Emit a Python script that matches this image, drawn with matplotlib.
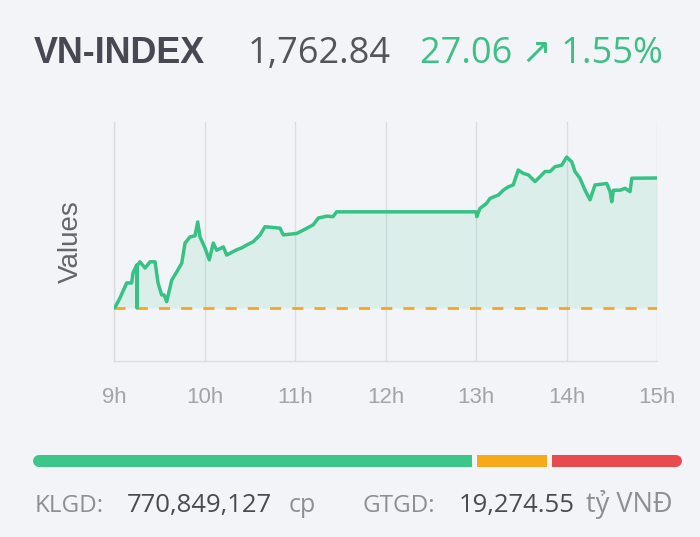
import numpy as np
import matplotlib
matplotlib.use('Agg')
import matplotlib.pyplot as plt

# dane sesji: minuty od 9:00 i wartosc indeksu
minutes = [0, 1, 4, 8.4, 11.7, 12.6, 15, 15.2, 15.4, 17.2, 20.6, 23.9, 27.2, 29.2,
           31.6, 33.2, 34.9, 35.8, 38.3, 41.6, 44.9, 47.1, 50.4, 53.7, 55.5, 57,
           60.3, 63.2, 65.8, 68.1, 72.5, 74.7, 81.3, 84.7, 88, 92.4, 96.8, 100.1,
           110.1, 112.2, 121.1, 125.5, 132.1, 135.4, 141, 145.2, 147.6, 150,
           240, 240.5, 242.6, 247.1, 249.3, 254.8, 258.1, 261.4, 264.7, 268,
           271.4, 274.7, 279.1, 282.4, 285.8, 289.1, 292.4, 296.8, 300.1, 303.5,
           305.6, 308.9, 312.3, 315.6, 318.9, 326.7, 328.9, 330, 331.1, 335.5,
           338.8, 342.1, 343.3, 360]
values = [1735.8, 1736.1, 1737.9, 1741.0, 1741.0, 1743.1, 1744.7, 1735.8, 1744.6,
          1745.4, 1744.1, 1745.4, 1745.4, 1741.0, 1738.5, 1738.5, 1737.1, 1738.3,
          1741.6, 1743.3, 1745.1, 1749.3, 1750.6, 1750.8, 1753.7, 1750.6, 1748.3,
          1745.8, 1749.3, 1747.8, 1748.5, 1746.8, 1747.9, 1748.3, 1748.9, 1749.6,
          1751.0, 1752.7, 1752.4, 1751.0, 1751.3, 1752.0, 1753.1, 1754.5, 1754.9,
          1754.8, 1755.8, 1755.8,
          1755.8, 1754.8, 1756.5, 1757.6, 1758.6, 1759.3, 1760.3, 1761.0, 1761.4,
          1764.5, 1763.8, 1763.5, 1762.1, 1763.1, 1764.2, 1764.2, 1765.2, 1765.5,
          1767.2, 1766.2, 1764.2, 1762.8, 1760.3, 1758.3, 1761.4, 1761.7, 1760.0,
          1757.9, 1760.3, 1760.3, 1760.7, 1760.0, 1762.8, 1762.84]
ref_value = 1735.78
hour_ticks = [9, 10, 11, 12, 13, 14, 15]
hour_labels = ['9h', '10h', '11h', '12h', '13h', '14h', '15h']

# naglowek i podsumowanie
index_name = 'VN-INDEX'
last_price = '1,762.84'
change_text = '27.06 \u2197 1.55%'
klgd = '770,849,127'
gtgd = '19,274.55'

# liczba spolek: wzrost / bez zmian / spadek
breadth = [219, 35, 65]
breadth_colors = ['#3cc68a', '#f8a81b', '#e84a4d']

W, H = 700, 537
bg = '#f3f4f8'
green = '#3dbf85'

fig = plt.figure(figsize=(W / 100, H / 100), dpi=100)
fig.patch.set_facecolor(bg)


def fx(x):
    return x / W


def fy(y):
    return 1 - y / H


# wykres glowny
ax = fig.add_axes([fx(114), fy(361), fx(657) - fx(114), fy(122) - fy(361)])
ax.set_facecolor(bg)
t = 9 + np.array(minutes) / 60.0
v = np.array(values)

ax.fill_between(t, v, ref_value, color='#3cc68a', alpha=0.12, lw=0)
ax.axhline(ref_value, color='#f5a623', lw=2.0, dashes=(4, 4), zorder=2)
ax.plot(t, v, color='#37c285', lw=2.5, zorder=3)

ax.set_xlim(9, 15)
ax.set_ylim(1724.75, 1774.5)
ax.set_xticks(hour_ticks)
ax.set_xticklabels(hour_labels, family='Liberation Sans', fontsize=16, color='#a3a3a8')
ax.tick_params(axis='x', length=0, pad=18.5)
ax.set_yticks([])
ax.grid(True, axis='x', color='#dcdde2', lw=1)
for s in ['top', 'right']:
    ax.spines[s].set_visible(False)
for s in ['left', 'bottom']:
    ax.spines[s].set_color('#dcdde2')
    ax.spines[s].set_linewidth(1)
ax.set_axisbelow(True)
ax.set_ylabel('Values', family='Liberation Sans', fontsize=20, color='#666666', labelpad=22)

# naglowek
fig.text(fx(34), fy(63), index_name, family='Liberation Sans', weight='bold',
         fontsize=25.8, color='#474952', va='baseline')
fig.text(fx(248), fy(63), last_price, family='Open Sans', fontsize=26,
         color='#555558', va='baseline')
fig.text(fx(420), fy(63), change_text, family=['Open Sans', 'DejaVu Sans'], fontsize=26,
         color=green, va='baseline')

# pasek wzrost/spadek
bx = fig.add_axes([fx(33), fy(470), fx(682) - fx(33), fy(452) - fy(470)])
bx.set_axis_off()
total_px = 682 - 33
gap_px = 4.5
seg_px = total_px - gap_px * (len(breadth) - 1)
scale = seg_px / sum(breadth)
lw_pt = 12 * 0.72
r = 6
pos = 0
for i, (n, c) in enumerate(zip(breadth, breadth_colors)):
    x0 = pos
    x1 = pos + n * scale
    if i == 0:
        bx.plot([x0 + r, x1 - r], [0, 0], color=c, lw=lw_pt, solid_capstyle='round')
        bx.plot([x0 + r, x1], [0, 0], color=c, lw=lw_pt, solid_capstyle='butt')
    elif i == len(breadth) - 1:
        bx.plot([x0 + r, x1 - r], [0, 0], color=c, lw=lw_pt, solid_capstyle='round')
        bx.plot([x0, x1 - r], [0, 0], color=c, lw=lw_pt, solid_capstyle='butt')
    else:
        bx.plot([x0, x1], [0, 0], color=c, lw=lw_pt, solid_capstyle='butt')
    pos = x1 + gap_px
bx.set_xlim(0, total_px)
bx.set_ylim(-1, 1)

# dolne podsumowanie
ty = fy(512)
fig.text(fx(35), ty, 'KLGD:', family='Open Sans', fontsize=17.5, color='#8e8f94', va='baseline')
fig.text(fx(127), ty, klgd, family='Open Sans', fontsize=18.5, color='#4a4b52', va='baseline')
fig.text(fx(289), ty, 'cp', family='Open Sans', fontsize=18, color='#8e8f94', va='baseline')
fig.text(fx(362), ty, 'GTGD:', family='Open Sans', fontsize=17.5, color='#8e8f94', va='baseline')
fig.text(fx(459), ty, gtgd, family='Open Sans', fontsize=18.5, color='#4a4b52', va='baseline')
fig.text(fx(586), ty, 't\u1ef7 VN\u0110', family='Open Sans', fontsize=19.5, color='#8e8f94', va='baseline')

plt.savefig('out.png', dpi=100, facecolor=fig.get_facecolor())
